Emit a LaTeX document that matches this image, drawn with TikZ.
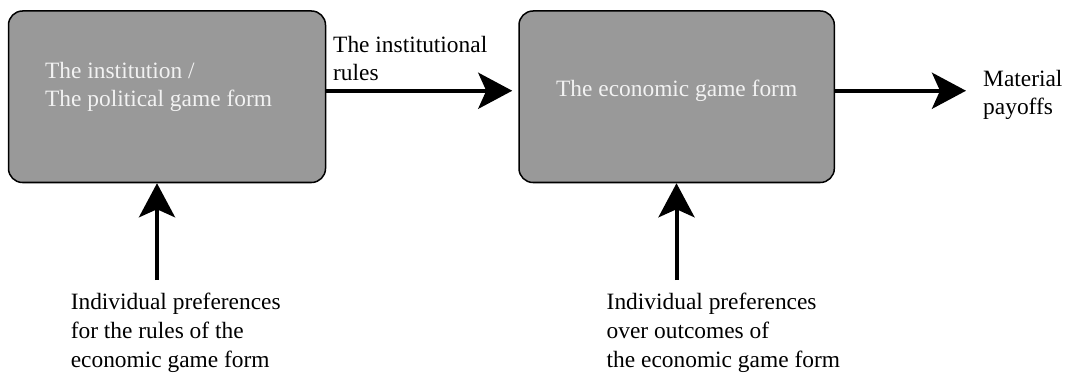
\documentclass[tikz,border=0pt]{standalone}
\usepackage{fontspec}
\setmainfont{Liberation Serif}
\usetikzlibrary{arrows.meta}
\definecolor{boxgray}{HTML}{999999}
\definecolor{boxtext}{HTML}{F2F2F2}

\begin{document}
\begin{tikzpicture}[
    x=1pt, y=-1pt,
    every node/.style={font=\fontsize{23.4}{28.8}\selectfont, inner sep=0pt},
    gamebox/.style={draw, line width=1.5pt, fill=boxgray, rounded corners=14pt},
    boxlabel/.style={text=boxtext, align=left},
    plainlabel/.style={align=left, anchor=base west},
    bigarrow/.style={line width=4pt, -{Stealth[length=34pt, width=36pt, inset=8pt]}}
]
\useasboundingbox (0,0) rectangle (1075,374);
% the two game forms
\node[gamebox, minimum width=317pt, minimum height=171.5pt] (political) at (167,96.75) {};
\node[gamebox, minimum width=315.3pt, minimum height=171.5pt] (economic) at (676.65,96.75) {};
% (base of a node with several lines = base of its last line)
\node[boxlabel, anchor=base west] (political-text) at (45,107) {The institution /\\The political game form};
\node[boxlabel, anchor=base] (economic-text) at (676.65,97) {The economic game form};
% labels
\node[plainlabel] (rules-text) at (333,81) {The institutional\\rules};
\node[plainlabel] (payoffs-text) at (983,115) {Material\\payoffs};
\node[plainlabel] (rules-pref) at (70.6,367.5) {Individual preferences\\for the rules of the\\economic game form};
\node[plainlabel] (outcomes-pref) at (606.5,367.5) {Individual preferences\\over outcomes of\\the economic game form};
% arrows
\coordinate (payoffs-tip) at (966,90.75);
\coordinate (rules-foot) at (157,280);
\coordinate (outcomes-foot) at (676.5,280);
\draw[bigarrow, shorten >=6pt] ([yshift=6pt]political.east) -- ([yshift=6pt]economic.west);
\draw[bigarrow] ([yshift=6pt]economic.east) -- (payoffs-tip);
\draw[bigarrow] (rules-foot) -- (rules-foot |- political.south);
\draw[bigarrow] (outcomes-foot) -- (outcomes-foot |- economic.south);
\end{tikzpicture}
\end{document}
